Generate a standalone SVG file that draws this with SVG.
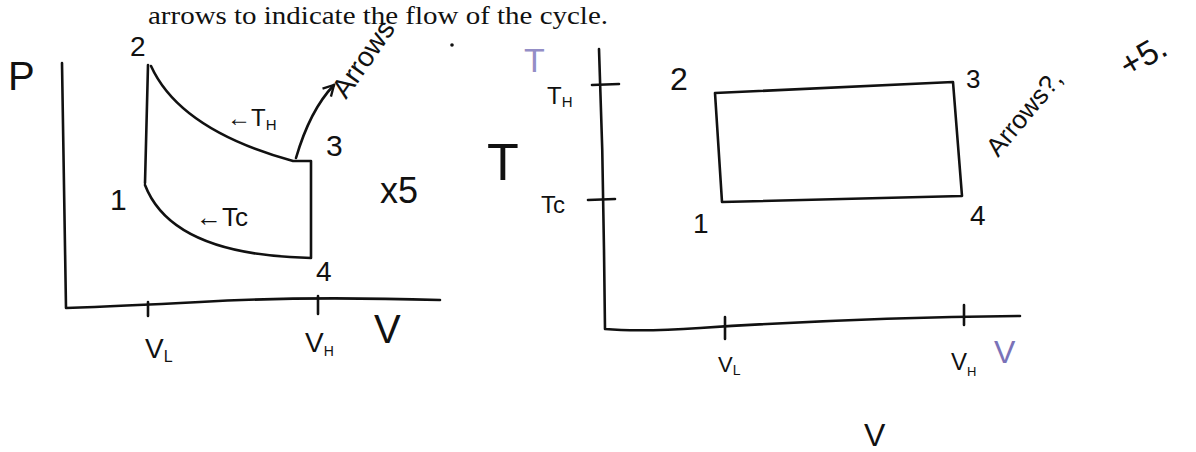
<svg xmlns="http://www.w3.org/2000/svg" width="1196" height="452" viewBox="0 0 1196 452">
<defs>
<marker id="ah" viewBox="0 0 12 12" refX="10" refY="6" markerWidth="14" markerHeight="14" markerUnits="userSpaceOnUse" orient="auto">
<path d="M1,1 L10,6 L1,11" fill="none" stroke="#111" stroke-width="2"/>
</marker>
<style>
.ln{fill:none;stroke:#111;stroke-width:2.6;stroke-linecap:round;stroke-linejoin:round}
.hw{font-family:"Liberation Sans","DejaVu Sans",sans-serif;fill:#111}
.pr{font-family:"Liberation Serif",serif;fill:#111}
.pu{font-family:"Liberation Sans",sans-serif;fill:#7a72b8}
</style>
</defs>
<rect width="1196" height="452" fill="#fff"/>
<text class="pr" x="148" y="24" font-size="26" textLength="460" lengthAdjust="spacingAndGlyphs">arrows to indicate the flow of the cycle.</text>

<g id="pv-axes">
<path class="ln" d="M62,63 L66,308 Q120,306 200,302 Q300,296 440,300"/>
<path class="ln" d="M148,302 L148,316 M318,296 L318,314"/>
<text class="hw" x="8" y="90" font-size="40">P</text>
<text class="hw" x="145" y="358" font-size="28">V<tspan font-size="16" dy="4">L</tspan></text>
<text class="hw" x="305" y="352" font-size="28">V<tspan font-size="14" dy="4">H</tspan></text>
<text class="hw" x="374" y="343" font-size="40">V</text>
</g>

<g id="pv-cycle">
<path class="ln" d="M148,65 L145,183"/>
<path class="ln" d="M151,66 Q180,130 293,161 L311,161 L311,258 L290,257 Q170,250 145,185"/>
</g>

<g id="pv-labels">
<text class="hw" x="130" y="56" font-size="28">2</text>
<text class="hw" x="110" y="210" font-size="30">1</text>
<text class="hw" x="326" y="156" font-size="30">3</text>
<text class="hw" x="316" y="281" font-size="28">4</text>
<text class="hw" x="227" y="126" font-size="24">←T<tspan font-size="15" dy="4">H</tspan></text>
<text class="hw" x="196" y="226" font-size="26">←Tc</text>
<text class="hw" x="380" y="203" font-size="36">x5</text>
</g>

<g id="connectors">
<path class="ln" d="M296,158 Q310,110 334,85" marker-end="url(#ah)"/>
</g>

<g id="pv-note">
<text class="hw" x="346" y="100" font-size="28" transform="rotate(-55 346 100)">Arrows</text>
<circle cx="452" cy="45" r="1.8" fill="#111"/>
</g>

<g id="ts-axes">
<path class="ln" d="M599,49 Q603,150 604,250 L605,329 Q640,332 700,328 Q850,318 1020,316"/>
<path class="ln" d="M592,85 L619,84 M588,200 L615,199 M725,317 L725,339 M964,305 L964,325"/>
<text class="hw" x="487" y="180" font-size="52">T</text>
<text class="pu" x="524" y="72" font-size="34" opacity="0.8">T</text>
<text class="hw" x="547" y="104" font-size="24">T<tspan font-size="15" dy="3">H</tspan></text>
<text class="hw" x="541" y="213" font-size="24">Tc</text>
<text class="hw" x="718" y="372" font-size="22">V<tspan font-size="14" dy="3">L</tspan></text>
<text class="hw" x="951" y="370" font-size="24">V<tspan font-size="13" dy="6">H</tspan></text>
<text class="pu" x="994" y="363" font-size="32">V</text>
<text class="hw" x="864" y="446" font-size="32">V</text>
</g>

<g id="ts-cycle">
<path class="ln" d="M715,93 L953,82 L962,196 L722,202 Z"/>
</g>

<g id="ts-labels">
<text class="hw" x="670" y="90" font-size="32">2</text>
<text class="hw" x="966" y="88" font-size="26">3</text>
<text class="hw" x="693" y="233" font-size="28">1</text>
<text class="hw" x="970" y="225" font-size="28">4</text>
<text class="hw" x="998" y="158" font-size="26" transform="rotate(-50 998 158)">Arrows?,</text>
<text class="hw" x="1128" y="78" font-size="34" transform="rotate(-30 1128 78)">+5.</text>
</g>
</svg>
